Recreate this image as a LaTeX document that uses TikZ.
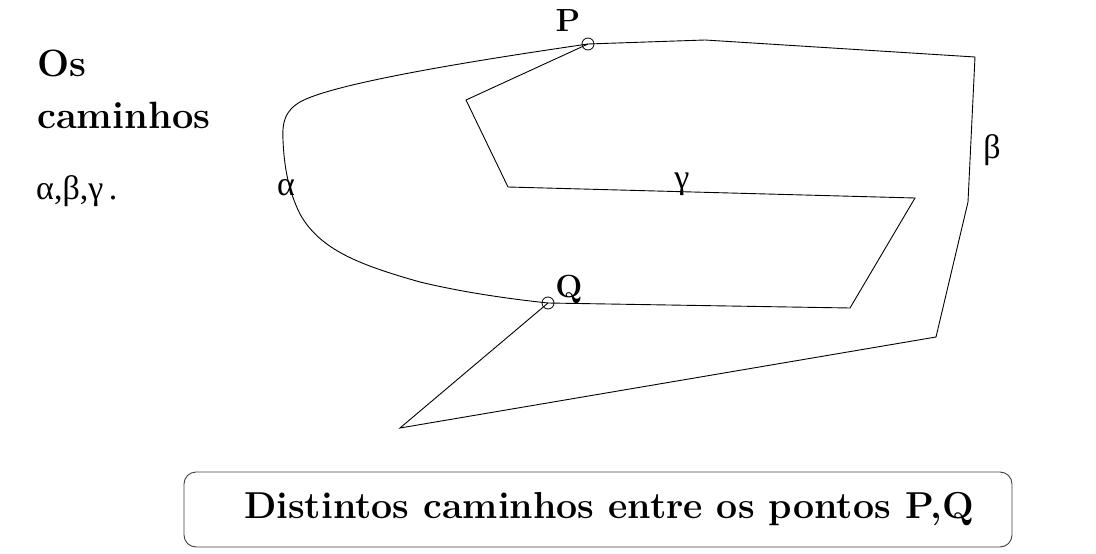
\documentclass[tikz,border=0pt]{standalone}
\usepackage{fontspec}
\newfontfamily\grk{Liberation Serif}
\begin{document}
\begin{tikzpicture}[x=1pt,y=-1pt,
  pt/.style={circle,draw,inner sep=0pt,minimum size=12pt,line width=0.8pt},
  path/.style={line width=0.9pt},
  lbl/.style={font=\fontsize{32}{38}\selectfont\bfseries,inner sep=0pt},
  side/.style={font=\fontsize{38}{44}\selectfont\bfseries,inner sep=0pt},
  glbl/.style={font=\fontsize{34}{40}\selectfont\grk,inner sep=0pt},
  capbox/.style={draw=black!75,line width=0.9pt,rounded corners=12pt,minimum width=828pt,minimum height=75pt,
    font=\fontsize{37.5}{44}\selectfont\bfseries}]
\useasboundingbox (0,0) rectangle (1096,554);
% points
\node[pt] (P) at (588,44) {};
\node[pt] (Q) at (548,303) {};
% corner coordinates
\coordinate (b1) at (705,40);
\coordinate (b2) at (975,57);
\coordinate (b3) at (968,202);
\coordinate (b4) at (936,337);
\coordinate (b5) at (400,428);
\coordinate (g1) at (466,100);
\coordinate (g2) at (508,187);
\coordinate (g3) at (915,198);
\coordinate (g4) at (850,308);
% alpha
\draw[path] (P.center) .. controls (450,64) and (330,85) .. (300,102)
  .. controls (285,111) and (282,122) .. (283,140)
  .. controls (284,165) and (288,190) .. (300,214)
  .. controls (320,250) and (360,265) .. (420,282)
  .. controls (470,294) and (520,300) .. (Q.center);
% beta
\draw[path] (P.center) -- (b1) -- (b2) -- (b3) -- (b4) -- (b5) -- (Q.center);
% gamma
\draw[path] (P.center) -- (g1) -- (g2) -- (g3) -- (g4) -- (Q.center);
% labels
\node[lbl] (Pl) at (568,21) {P};
\node[lbl] (Ql) at (569,289) {Q};
\node[glbl] (la) at (286,188) {α};
\node[glbl] (lb) at (992,150) {β};
\node[glbl] (lg) at (682,184) {γ};
\node[side,anchor=west] (t1) at (37,63) {Os};
\node[side,anchor=west] (t2) at (37,115) {caminhos};
\node[glbl,anchor=west] (t3) at (36,191) {α,β,γ\,.};
\node[capbox] (cap) at (598,509.5) {\hspace*{22pt}Distintos caminhos entre os pontos P,Q};
\end{tikzpicture}
\end{document}
